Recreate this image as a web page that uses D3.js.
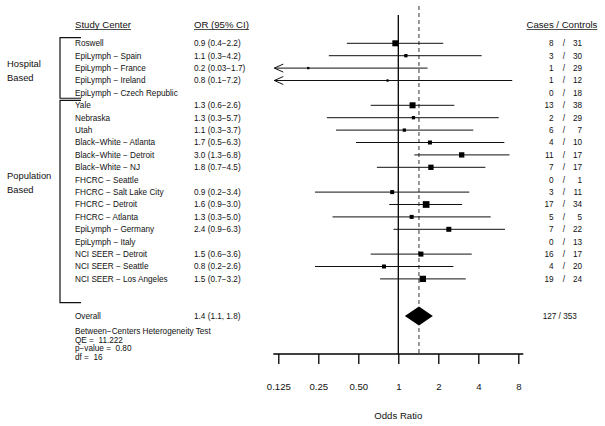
<!DOCTYPE html>
<html>
<head>
<meta charset="utf-8">
<script src="https://cdn.jsdelivr.net/npm/d3@7"></script>
<style>
  body { margin: 0; background: #fff; }
  text { font-family: "Liberation Sans", Arial, sans-serif; fill: #111; }
</style>
</head>
<body>
<div id="myPlot"></div>
<script>
// Data
const centers = ["Roswell", "EpiLymph \u2212 Spain", "EpiLymph \u2212 France", "EpiLymph \u2212 Ireland",
  "EpiLymph \u2212 Czech Republic", "Yale", "Nebraska", "Utah", "Black\u2212White \u2212 Atlanta",
  "Black\u2212White \u2212 Detroit", "Black\u2212White \u2212 NJ", "FHCRC \u2212 Seattle",
  "FHCRC \u2212 Salt Lake City", "FHCRC \u2212 Detroit", "FHCRC \u2212 Atlanta", "EpiLymph \u2212 Germany",
  "EpiLymph \u2212 Italy", "NCI SEER \u2212 Detroit", "NCI SEER \u2212 Seattle", "NCI SEER \u2212 Los Angeles"];
const orLabels = ["0.9 (0.4\u22122.2)", "1.1 (0.3\u22124.2)", "0.2 (0.03\u22121.7)", "0.8 (0.1\u22127.2)", "",
  "1.3 (0.6\u22122.6)", "1.3 (0.3\u22125.7)", "1.1 (0.3\u22123.7)", "1.7 (0.5\u22126.3)", "3.0 (1.3\u22126.8)",
  "1.8 (0.7\u22124.5)", "", "0.9 (0.2\u22123.4)", "1.6 (0.9\u22123.0)", "1.3 (0.3\u22125.0)", "2.4 (0.9\u22126.3)", "",
  "1.5 (0.6\u22123.6)", "0.8 (0.2\u22122.6)", "1.5 (0.7\u22123.2)"];
const orValues = [0.95, 1.14, 0.21, 0.83, null, 1.28, 1.30, 1.11, 1.73, 3.0, 1.76, null, 0.90, 1.62, 1.26, 2.4, null, 1.48, 0.78, 1.53];
const ciLower = [0.41, 0.30, 0.03, 0.1, null, 0.62, 0.29, 0.34, 0.48, 1.32, 0.69, null, 0.236, 0.855, 0.32, 0.92, null, 0.62, 0.236, 0.73];
const ciUpper = [2.18, 4.24, 1.66, 7.2, null, 2.64, 5.7, 3.67, 6.28, 6.87, 4.52, null, 3.42, 3.02, 4.96, 6.35, null, 3.57, 2.6, 3.22];
const weights = [6, 3.3, 2.3, 2.3, 0, 6, 3.3, 3.3, 4, 5.3, 5.3, 0, 4, 6.7, 4, 5, 0, 5, 4, 6.3];
const cases = [8, 3, 1, 1, 0, 13, 2, 6, 4, 11, 7, 0, 3, 17, 5, 7, 0, 16, 4, 19];
const controls = [31, 30, 29, 12, 18, 38, 29, 7, 10, 17, 17, 1, 11, 34, 5, 22, 13, 17, 20, 24];
const overall = { or: 1.43, lo: 1.12, hi: 1.82, label: "1.4 (1.1, 1.8)", counts: "127 / 353" };
const heteroText = ["Between\u2212Centers Heterogeneity Test", "QE =  11.222", "p\u2212value =  0.80", "df =  16"];
const tickValues = [0.125, 0.25, 0.5, 1, 2, 4, 8];
const tickLabels = ["0.125", "0.25", "0.50", "1", "2", "4", "8"];

const svg = d3.select("#myPlot")
  .append("svg")
  .attr("width", 605)
  .attr("height", 426);

// Scales
const x = d3.scaleLog().base(2)
  .domain([0.125, 8])
  .range([278.3, 518.3]);
const y = d3.scaleLinear()
  .domain([0, 22])
  .range([43.3, 316.1]);

const axisY = 354;

// Headers
const headers = [["Study Center", 75], ["OR (95% CI)", 194], ["Cases / Controls", 526.5]];
headers.forEach(function (h) {
  const t = svg.append("text")
    .attr("x", h[1]).attr("y", 24.3).attr("dy", "0.35em")
    .style("font-size", "9.6px")
    .text(h[0]);
  const w = t.node().getComputedTextLength();
  svg.append("line")
    .attr("x1", h[1]).attr("x2", h[1] + w)
    .attr("y1", 29.5).attr("y2", 29.5)
    .attr("stroke", "#222").attr("stroke-width", 0.8);
});

// Group brackets
const brackets = [[y(-0.45), y(4.43)], [y(4.6), 302.7]];
brackets.forEach(function (b) {
  svg.append("path")
    .attr("d", "M81," + b[0] + "H60V" + b[1] + "H81")
    .attr("fill", "none").attr("stroke", "#111").attr("stroke-width", 1.2);
});
const groupLabels = [["Hospital", 64], ["Based", 78], ["Population", 176], ["Based", 190]];
svg.selectAll(".grp")
  .data(groupLabels).enter()
  .append("text")
  .attr("x", 7).attr("y", function (d) { return d[1]; }).attr("dy", "0.35em")
  .style("font-size", "9.4px")
  .text(function (d) { return d[0]; });

// Row text
const rows = centers.map(function (c, i) {
  return { name: c, label: orLabels[i], or: orValues[i], lo: ciLower[i], hi: ciUpper[i],
    w: weights[i], cases: cases[i], controls: controls[i], i: i };
});

const rowG = svg.append("g").style("font-size", "8.2px");
rowG.selectAll(".name").data(rows).enter()
  .append("text").attr("x", 75).attr("y", function (d) { return y(d.i); }).attr("dy", "0.35em")
  .text(function (d) { return d.name; });
rowG.selectAll(".orl").data(rows).enter()
  .append("text").attr("x", 194).attr("y", function (d) { return y(d.i); }).attr("dy", "0.35em")
  .text(function (d) { return d.label; });
rowG.selectAll(".cas").data(rows).enter()
  .append("text").attr("x", 553.5).attr("y", function (d) { return y(d.i); }).attr("dy", "0.35em")
  .attr("text-anchor", "end").text(function (d) { return d.cases; });
rowG.selectAll(".sl").data(rows).enter()
  .append("text").attr("x", 564).attr("y", function (d) { return y(d.i); }).attr("dy", "0.35em")
  .attr("text-anchor", "middle").text("/");
rowG.selectAll(".con").data(rows).enter()
  .append("text").attr("x", 582).attr("y", function (d) { return y(d.i); }).attr("dy", "0.35em")
  .attr("text-anchor", "end").text(function (d) { return d.controls; });

// Overall text
rowG.append("text").attr("x", 75).attr("y", y(22)).attr("dy", "0.35em").text("Overall");
rowG.append("text").attr("x", 194).attr("y", y(22)).attr("dy", "0.35em").text(overall.label);
rowG.append("text").attr("x", 542.7).attr("y", y(22)).attr("dy", "0.35em").text(overall.counts);

rowG.selectAll(".het").data(heteroText).enter()
  .append("text")
  .attr("x", 75)
  .attr("y", function (d, i) { return i === 0 ? 330.7 : 340 + (i - 1) * 8.35; })
  .attr("dy", "0.35em")
  .style("white-space", "pre")
  .text(function (d) { return d; });

// Reference lines
svg.append("line")
  .attr("x1", x(1)).attr("x2", x(1)).attr("y1", 15).attr("y2", axisY)
  .attr("stroke", "#000").attr("stroke-width", 1.3);
svg.append("line")
  .attr("x1", x(overall.or)).attr("x2", x(overall.or)).attr("y1", 6).attr("y2", axisY)
  .attr("stroke", "#555").attr("stroke-width", 1.2).attr("stroke-dasharray", "4,3");

// CI lines
const plotted = rows.filter(function (d) { return d.or !== null; });
const xMin = x(0.125) - 4;
svg.append("g").selectAll("line").data(plotted).enter()
  .append("line")
  .attr("x1", function (d) { return Math.max(x(d.lo), xMin); })
  .attr("x2", function (d) { return x(d.hi); })
  .attr("y1", function (d) { return y(d.i); })
  .attr("y2", function (d) { return y(d.i); })
  .attr("stroke", "#111").attr("stroke-width", 1);

// Arrows for clipped lower limits
svg.append("g").selectAll("path")
  .data(plotted.filter(function (d) { return x(d.lo) < xMin; })).enter()
  .append("path")
  .attr("d", function (d) {
    const yy = y(d.i);
    return "M" + (xMin + 9) + "," + (yy - 4) + "L" + xMin + "," + yy + "L" + (xMin + 9) + "," + (yy + 4);
  })
  .attr("fill", "none").attr("stroke", "#111").attr("stroke-width", 1);

// Boxes
svg.append("g").selectAll("rect").data(plotted).enter()
  .append("rect")
  .attr("x", function (d) { return x(d.or) - d.w / 2; })
  .attr("y", function (d) { return y(d.i) - d.w / 2; })
  .attr("width", function (d) { return d.w; })
  .attr("height", function (d) { return d.w; })
  .attr("fill", "#000");

// Overall diamond
svg.append("path")
  .attr("d", "M" + x(overall.lo) + "," + y(22) + "L" + x(overall.or) + "," + (y(22) - 9.5) +
    "L" + x(overall.hi) + "," + y(22) + "L" + x(overall.or) + "," + (y(22) + 9.5) + "Z")
  .attr("fill", "#000");

// X axis
svg.append("line")
  .attr("x1", x(0.125) - 5).attr("x2", x(8) + 5)
  .attr("y1", axisY).attr("y2", axisY)
  .attr("stroke", "#000").attr("stroke-width", 1.3);

const axisG = svg.append("g")
  .attr("transform", "translate(0," + axisY + ")")
  .call(d3.axisBottom(x)
    .tickValues(tickValues)
    .tickSize(10)
    .tickPadding(19)
    .tickFormat(function (d, i) { return tickLabels[i]; }));
axisG.select(".domain").remove();
axisG.selectAll(".tick line").attr("stroke", "#000").attr("stroke-width", 1.3);
axisG.selectAll(".tick text")
  .style("font-size", "9.6px")
  .style("font-family", "'Liberation Sans', Arial, sans-serif")
  .attr("fill", "#111");

svg.append("text")
  .attr("x", x(1)).attr("y", 416).attr("dy", "0.35em")
  .attr("text-anchor", "middle")
  .style("font-size", "9.6px")
  .text("Odds Ratio");
</script>
</body>
</html>
